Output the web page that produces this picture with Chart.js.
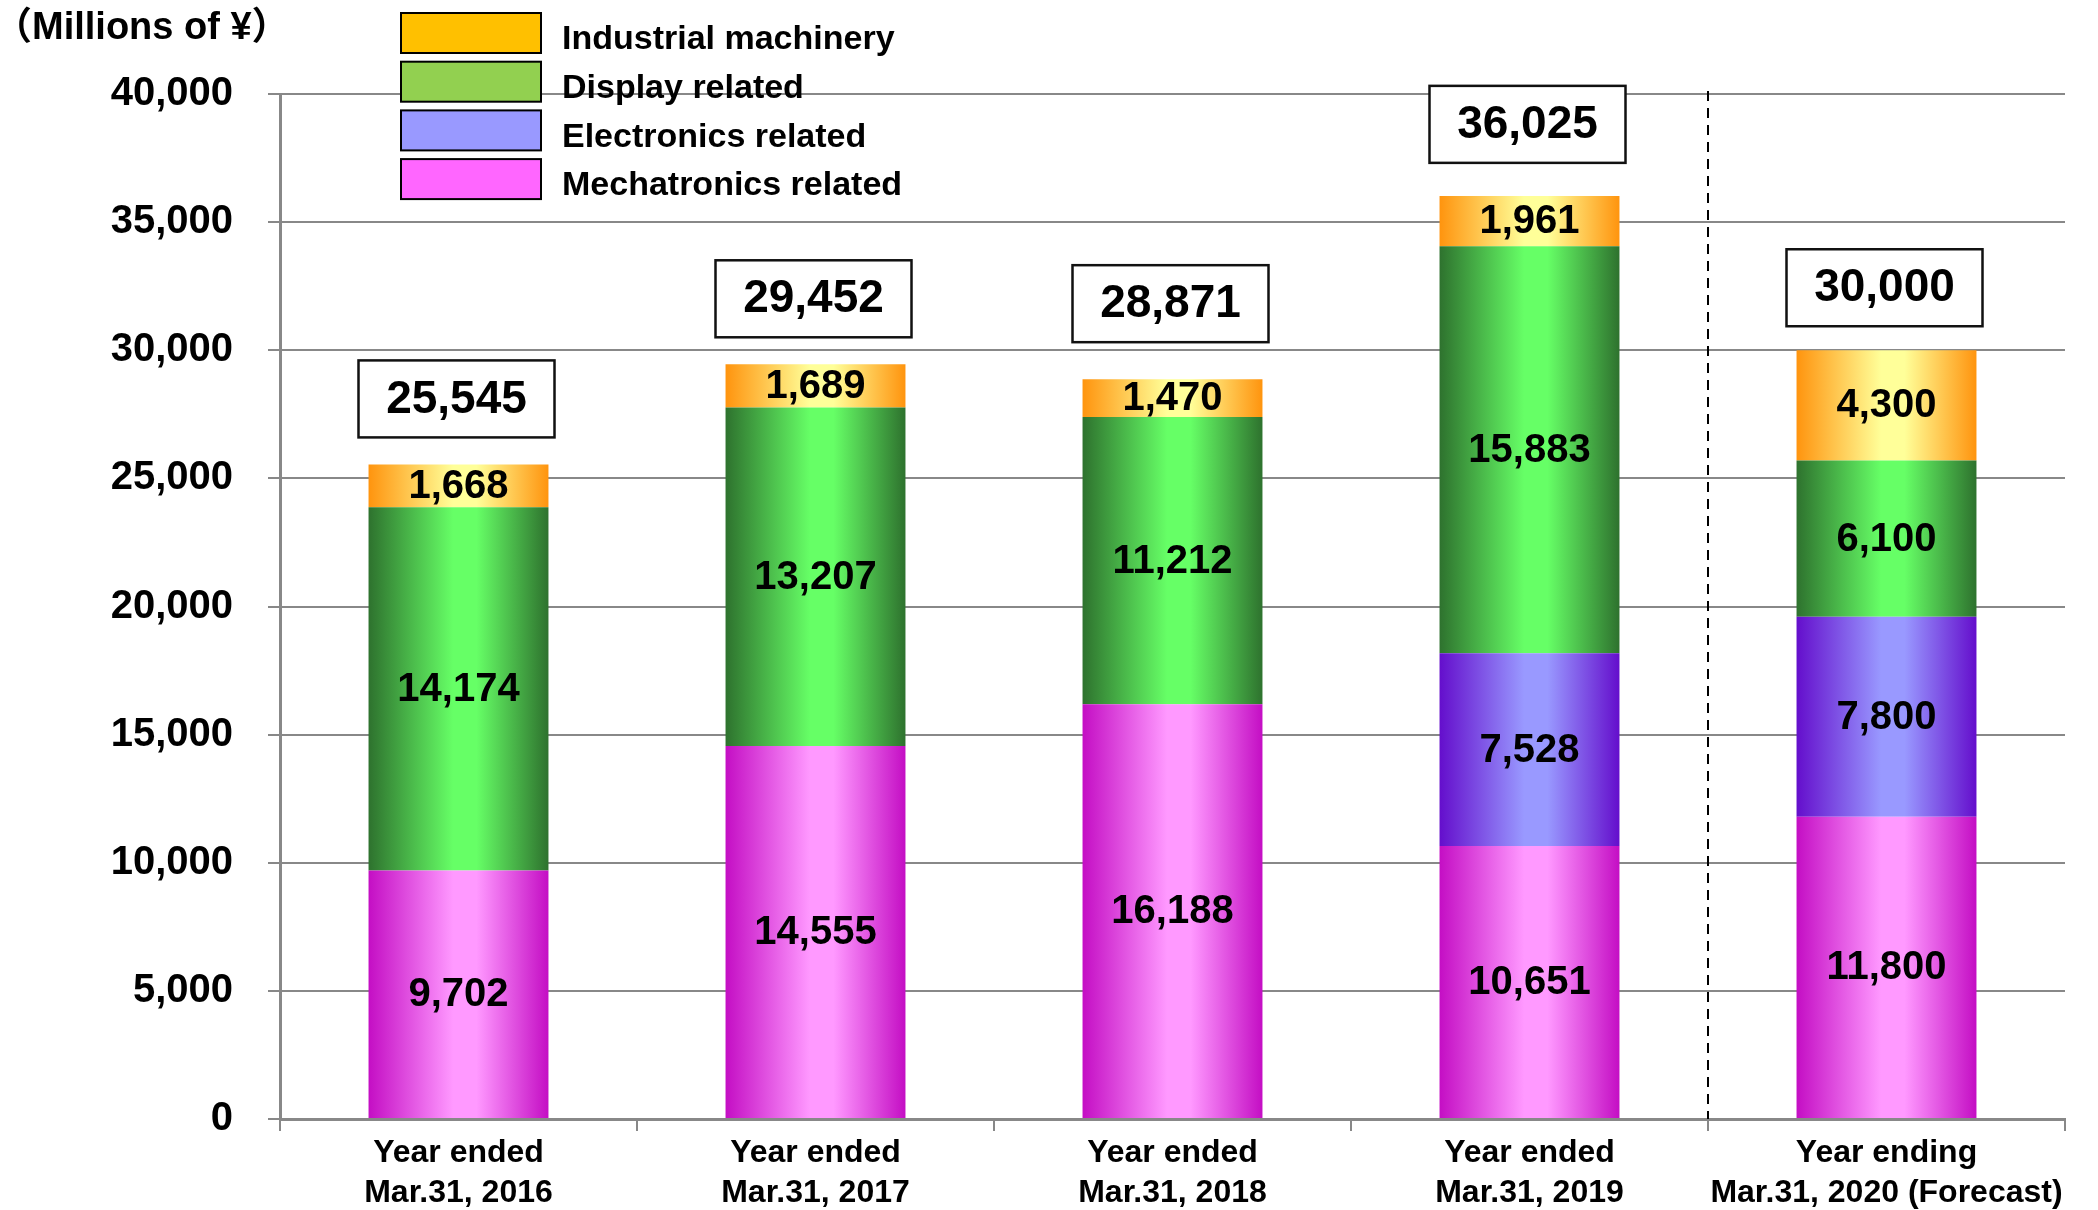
<!DOCTYPE html>
<html>
<head>
<meta charset="utf-8">
<title>Net sales by segment</title>
<script src="https://cdn.jsdelivr.net/npm/chart.js@4.4.1/dist/chart.umd.min.js"></script>
<style>
  html, body { margin: 0; padding: 0; background: #fff; }
  #wrap { width: 2098px; height: 1210px; }
</style>
</head>
<body>
<div id="wrap"><canvas id="salesChart" width="2098" height="1210"></canvas></div>
<script>
// fiscal years (two-line axis labels)
const yearLabels = [
  ['Year ended', 'Mar.31, 2016'],
  ['Year ended', 'Mar.31, 2017'],
  ['Year ended', 'Mar.31, 2018'],
  ['Year ended', 'Mar.31, 2019'],
  ['Year ending', 'Mar.31, 2020 (Forecast)']
];

// net sales by segment, millions of yen
const mechatronics = [9702, 14555, 16188, 10651, 11800];
const electronics  = [null, null, null, 7528, 7800];
const display      = [14174, 13207, 11212, 15883, 6100];
const industrial   = [1668, 1689, 1470, 1961, 4300];
const totals       = [25545, 29452, 28871, 36025, 30000];

const yTickValues = [0, 5000, 10000, 15000, 20000, 25000, 30000, 35000, 40000];

const BAR_PCT = 0.504;
const LABEL_FONT = '"Liberation Sans", Arial, Helvetica, sans-serif';

// horizontal "tube" gradient across each bar: dark edges, light middle
function tube(dark, light) {
  return function (c) {
    const chart = c.chart;
    const xs = chart.scales.x;
    if (c.type !== 'data' || !xs || !chart.chartArea) return light;
    const cx = xs.getPixelForValue(c.dataIndex);
    const half = xs.width / yearLabels.length * BAR_PCT / 2;
    const g = chart.ctx.createLinearGradient(cx - half, 0, cx + half, 0);
    g.addColorStop(0, dark);
    g.addColorStop(0.47, light);
    g.addColorStop(0.6, light);
    g.addColorStop(1, dark);
    return g;
  };
}

const fmt = v => v.toLocaleString('en-US');

// value labels centred inside each stacked segment
const segmentLabels = {
  id: 'segmentLabels',
  afterDatasetsDraw(chart) {
    const ctx = chart.ctx;
    ctx.save();
    ctx.font = 'bold 40px ' + LABEL_FONT;
    ctx.fillStyle = '#000';
    ctx.textAlign = 'center';
    ctx.textBaseline = 'middle';
    chart.data.datasets.forEach((ds, di) => {
      chart.getDatasetMeta(di).data.forEach((bar, i) => {
        const v = ds.data[i];
        if (v == null) return;
        ctx.fillText(fmt(v), bar.x, (bar.y + bar.base) / 2 + 1);
      });
    });
    ctx.restore();
  }
};

// boxed totals above each column
const totalBoxes = {
  id: 'totalBoxes',
  afterDatasetsDraw(chart, args, opts) {
    const ctx = chart.ctx;
    const xs = chart.scales.x, ys = chart.scales.y;
    const w = 196, h = 77;
    ctx.save();
    ctx.font = 'bold 46px ' + LABEL_FONT;
    ctx.textAlign = 'center';
    ctx.textBaseline = 'middle';
    totals.forEach((t, i) => {
      const cx = xs.getPixelForValue(i) - 2;
      const bottom = ys.getPixelForValue(t) - opts.lift[i];
      ctx.fillStyle = '#fff';
      ctx.fillRect(cx - w / 2, bottom - h, w, h);
      ctx.lineWidth = 2.5;
      ctx.strokeStyle = '#111';
      ctx.strokeRect(cx - w / 2, bottom - h, w, h);
      ctx.fillStyle = '#000';
      ctx.fillText(fmt(t), cx, bottom - h / 2 + 1);
    });
    ctx.restore();
  }
};

// dashed divider between results and forecast
const forecastDivider = {
  id: 'forecastDivider',
  afterDatasetsDraw(chart) {
    const ctx = chart.ctx;
    const xs = chart.scales.x;
    const area = chart.chartArea;
    const n = yearLabels.length;
    const x = Math.round((xs.getPixelForValue(n - 2) + xs.getPixelForValue(n - 1)) / 2);
    ctx.save();
    ctx.strokeStyle = '#000';
    ctx.lineWidth = 2;
    ctx.setLineDash([10, 7]);
    ctx.beginPath();
    ctx.moveTo(x, area.top - 3);
    ctx.lineTo(x, area.bottom);
    ctx.stroke();
    ctx.restore();
  }
};

// unit caption and the boxed legend in the top-left corner
const cornerLegend = {
  id: 'cornerLegend',
  afterDraw(chart) {
    const ctx = chart.ctx;
    ctx.save();
    ctx.fillStyle = '#000';
    ctx.textBaseline = 'middle';
    ctx.textAlign = 'left';
    ctx.font = 'bold 38px "Liberation Sans", "Noto Sans CJK JP", sans-serif';
    ctx.fillText('（Millions of ¥）', -6, 29);

    const items = chart.data.datasets.slice().reverse();
    ctx.font = 'bold 34px ' + LABEL_FONT;
    items.forEach((ds, k) => {
      const top = 13 + k * 48.7;
      ctx.fillStyle = ds.legendColor;
      ctx.fillRect(401, top, 140, 40);
      ctx.lineWidth = 2;
      ctx.strokeStyle = '#000';
      ctx.strokeRect(401, top, 140, 40);
      ctx.fillStyle = '#000';
      ctx.fillText(ds.label, 562, top + 27);
    });
    ctx.restore();
  }
};

const salesChart = new Chart(document.getElementById('salesChart'), {
  type: 'bar',
  data: {
    labels: yearLabels,
    datasets: [
      { label: 'Mechatronics related', data: mechatronics, legendColor: '#FF66FF',
        backgroundColor: tube('#C40EC4', '#FF99FF') },
      { label: 'Electronics related', data: electronics, legendColor: '#9999FF',
        backgroundColor: tube('#640ECC', '#9999FF') },
      { label: 'Display related', data: display, legendColor: '#92D050',
        backgroundColor: tube('#2E722E', '#66FF66') },
      { label: 'Industrial machinery', data: industrial, legendColor: '#FFC000',
        backgroundColor: tube('#FF940E', '#FFFF99') }
    ]
  },
  options: {
    responsive: false,
    devicePixelRatio: 1,
    animation: false,
    barPercentage: BAR_PCT,
    categoryPercentage: 1,
    layout: { padding: { top: 94, right: 33, bottom: 0, left: 0 } },
    plugins: {
      legend: { display: false },
      tooltip: { enabled: false },
      totalBoxes: { lift: [27, 27, 37, 33, 24] }
    },
    scales: {
      x: {
        stacked: true,
        grid: { drawOnChartArea: false, color: '#888', lineWidth: 2, tickLength: 12, offset: true },
        border: { color: '#888', width: 3 },
        ticks: {
          color: '#000',
          font: { family: LABEL_FONT, size: 32, weight: 'bold', lineHeight: 1.25 },
          padding: 2,
          maxRotation: 0,
          autoSkip: false
        },
        afterFit(s) { s.height = 91; }
      },
      y: {
        stacked: true,
        min: 0,
        max: 40000,
        afterBuildTicks(s) { s.ticks = yTickValues.map(v => ({ value: v })); },
        grid: { color: '#888', lineWidth: 2, tickLength: 12 },
        border: { color: '#888', width: 3 },
        ticks: {
          color: '#000',
          font: { family: LABEL_FONT, size: 40, weight: 'bold' },
          padding: 35,
          callback: v => fmt(v)
        },
        afterFit(s) { s.width = 280; }
      }
    }
  },
  plugins: [segmentLabels, forecastDivider, totalBoxes, cornerLegend]
});
</script>
</body>
</html>
